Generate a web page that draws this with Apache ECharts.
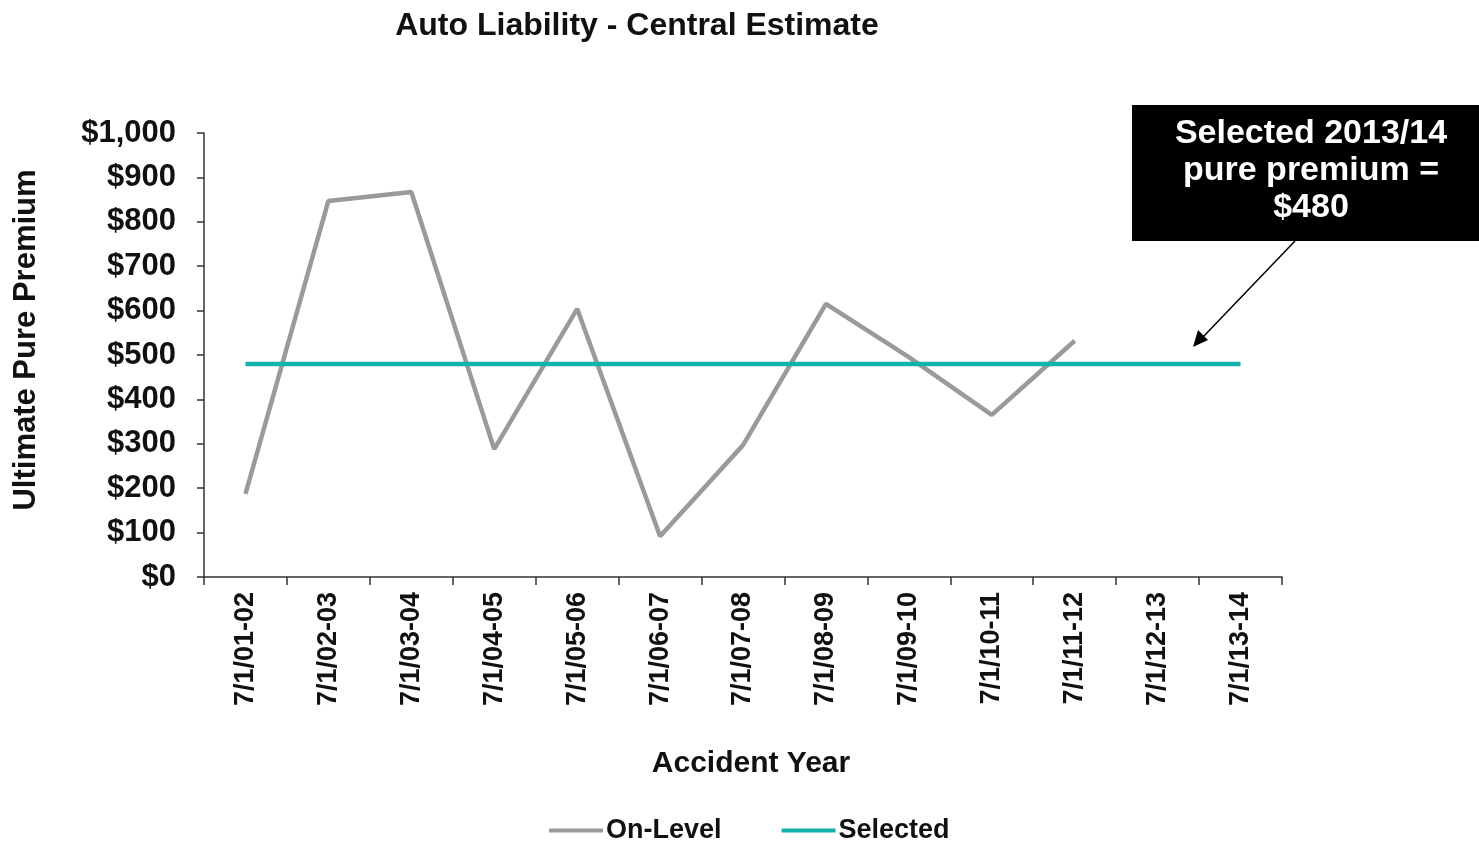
<!DOCTYPE html>
<html>
<head>
<meta charset="utf-8">
<script src="https://cdn.jsdelivr.net/npm/echarts@6/dist/echarts.min.js"></script>
<style>
html,body{margin:0;padding:0;background:#fff;}
#chart{width:1479px;height:841px;}
</style>
</head>
<body>
<div id="chart"></div>
<script>
const categories = ['7/1/01-02','7/1/02-03','7/1/03-04','7/1/04-05','7/1/05-06','7/1/06-07','7/1/07-08','7/1/08-09','7/1/09-10','7/1/10-11','7/1/11-12','7/1/12-13','7/1/13-14'];
const onLevel = [187, 847, 867, 288, 604, 92, 297, 615, 495, 365, 532, null, null];
const selected = [480, 480, 480, 480, 480, 480, 480, 480, 480, 480, 480, 480, 480];
const yTicks = [0, 100, 200, 300, 400, 500, 600, 700, 800, 900, 1000];
const annotationText = 'Selected 2013/14\npure premium =\n$480';

const FONT = '"Liberation Sans", Arial, sans-serif';
const chart = echarts.init(document.getElementById('chart'));
chart.setOption({
  backgroundColor: '#ffffff',
  animation: false,
  title: {
    text: 'Auto Liability - Central Estimate',
    left: 632, top: 5, textAlign: 'center',
    textStyle: {fontFamily: FONT, fontWeight: 'bold', fontSize: 32, color: '#111'}
  },
  legend: {
    top: 817, left: 549, padding: 0,
    itemGap: 60, itemWidth: 54, itemHeight: 4,
    icon: 'rect',
    data: ['On-Level', 'Selected'],
    textStyle: {fontFamily: FONT, fontWeight: 'bold', fontSize: 27, color: '#111', padding: [0,0,0,-2]}
  },
  grid: {left: 204, right: 197, top: 133, bottom: 264, outerBoundsMode: 'none', containLabel: false},
  xAxis: {
    type: 'category',
    data: categories,
    boundaryGap: true,
    name: 'Accident Year',
    nameLocation: 'middle',
    nameGap: 172,
    nameTextStyle: {fontFamily: FONT, fontWeight: 'bold', fontSize: 30, color: '#111', padding: [0,0,0,16]},
    axisLine: {lineStyle: {color: '#333', width: 1.5}},
    axisTick: {show: true, length: 8, alignWithLabel: false, lineStyle: {color: '#333', width: 1.5}},
    axisLabel: {rotate: 90, margin: 15, fontFamily: FONT, fontWeight: 'bold', fontSize: 27, color: '#111', interval: 0}
  },
  yAxis: {
    type: 'value',
    min: 0, max: 1000, interval: 100,
    name: 'Ultimate Pure Premium',
    nameLocation: 'middle',
    nameGap: 162,
    nameRotate: 90,
    nameTextStyle: {fontFamily: FONT, fontWeight: 'bold', fontSize: 31, color: '#111', padding: [0,0,0,30]},
    axisLine: {show: true, lineStyle: {color: '#333', width: 1.5}},
    axisTick: {show: true, length: 7, lineStyle: {color: '#333', width: 1.5}},
    splitLine: {show: false},
    axisLabel: {
      margin: 28, fontFamily: FONT, fontWeight: 'bold', fontSize: 31, color: '#111',
      formatter: function (v) { return yTicks.indexOf(v) >= 0 ? '$' + v.toLocaleString('en-US') : ''; }
    }
  },
  series: [
    {
      name: 'On-Level', type: 'line', data: onLevel, symbol: 'none',
      connectNulls: false,
      itemStyle: {color: '#9a9a9a'},
      lineStyle: {color: '#9a9a9a', width: 4.5}
    },
    {
      name: 'Selected', type: 'line', data: selected, symbol: 'none',
      itemStyle: {color: '#14b1ad'},
      lineStyle: {color: '#14b1ad', width: 4.5}
    }
  ],
  graphic: [
    {type: 'rect', shape: {x: 1132, y: 105, width: 347, height: 136}, style: {fill: '#000'}},
    {type: 'text', x: 1311, y: 115, style: {text: annotationText, fill: '#fff', font: 'bold 34px "Liberation Sans", Arial, sans-serif', textAlign: 'center', lineHeight: 37}},
    {type: 'line', shape: {x1: 1295, y1: 241, x2: 1203, y2: 337}, style: {stroke: '#000', lineWidth: 1.5}},
    {type: 'polygon', shape: {points: [[1193, 347], [1198, 330], [1208, 340]]}, style: {fill: '#000'}}
  ]
});
</script>
</body>
</html>
